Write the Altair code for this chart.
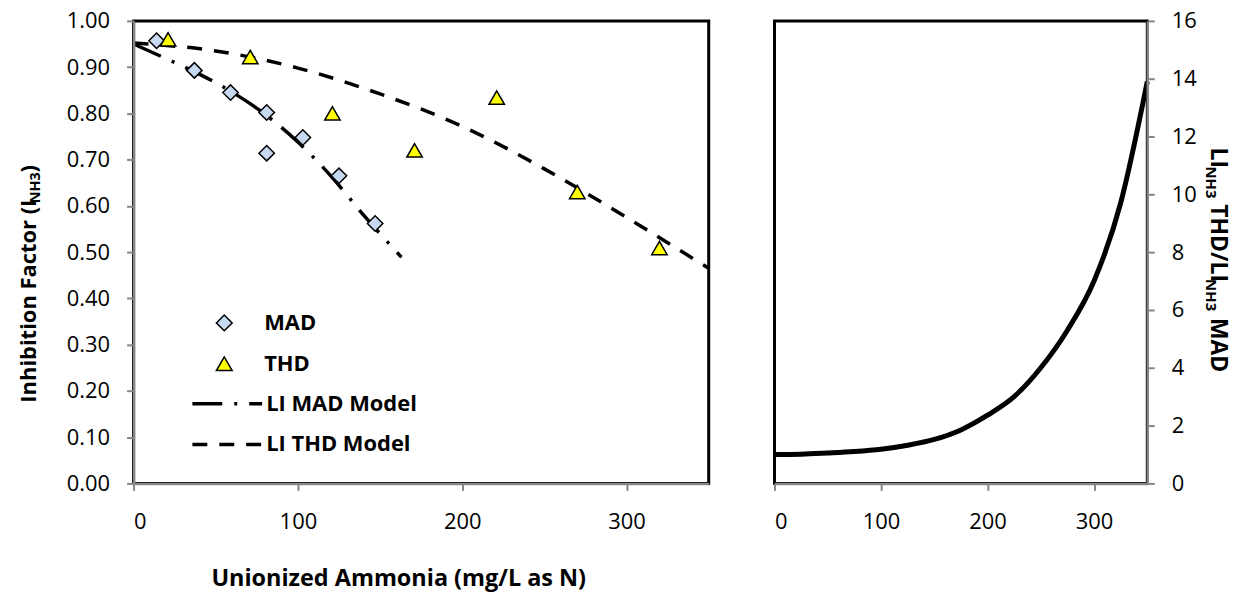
import altair as alt
import pandas as pd

# ---------------- data ----------------
mad_x = [14, 37, 59, 81, 81, 103, 125, 147]
mad_y = [0.957, 0.893, 0.845, 0.802, 0.714, 0.748, 0.665, 0.562]

thd_x = [21, 71, 121, 171, 221, 270, 320]
thd_y = [0.960, 0.922, 0.800, 0.720, 0.834, 0.630, 0.509]

mad_model_x = [0, 20, 40, 60, 80, 100, 120, 140, 163]
mad_model_y = [0.950, 0.918, 0.885, 0.846, 0.798, 0.738, 0.665, 0.580, 0.489]

thd_model_x = [0, 50, 100, 150, 200, 250, 300, 350]
thd_model_y = [0.952, 0.935, 0.898, 0.842, 0.772, 0.680, 0.575, 0.465]

ratio_x = [0, 25, 50, 75, 100, 125, 150, 175, 200, 225, 250, 275, 300, 325, 350]
ratio_y = [1.00, 1.01, 1.05, 1.10, 1.18, 1.32, 1.52, 1.85, 2.36, 3.00, 4.00, 5.30, 7.00, 9.70, 13.90]

series_names = ["MAD", "THD"]
model_names = ["LI MAD Model", "LI THD Model"]
left_ticks = [0.0, 0.1, 0.2, 0.3, 0.4, 0.5, 0.6, 0.7, 0.8, 0.9, 1.0]
right_ticks = [0, 2, 4, 6, 8, 10, 12, 14, 16]
x_ticks = [0, 100, 200, 300]

FONT = "Open Sans"
GRAY = "#868686"

pts = pd.DataFrame({
    "x": mad_x + thd_x,
    "y": mad_y + thd_y,
    "series": ["MAD"] * len(mad_x) + ["THD"] * len(thd_x),
})
models = pd.DataFrame({
    "x": mad_model_x + thd_model_x,
    "y": mad_model_y + thd_model_y,
    "model": [model_names[0]] * len(mad_model_x) + [model_names[1]] * len(thd_model_x),
})
ratio = pd.DataFrame({"x": ratio_x, "y": ratio_y})


def x_axis():
    return alt.Axis(values=x_ticks, title=None, grid=False, domainColor=GRAY,
                    domainWidth=2.5, tickColor=GRAY, tickWidth=2, tickSize=7,
                    labelFont=FONT, labelFontSize=22, labelColor="black",
                    labelPadding=21, zindex=1)


xscale = alt.Scale(domain=[0, 350], nice=False, zero=False)

# ---------------- left panel ----------------
line_legend = alt.Legend(title=None, orient="none", legendX=83, legendY=373,
                         symbolType="M-5,0H5", symbolSize=196,
                         symbolStrokeColor="black", symbolStrokeWidth=3.5,
                         labelFont=FONT, labelFontSize=22, labelFontWeight="bold",
                         labelColor="black", labelOffset=28, rowPadding=19,
                         padding=0, offset=0)

pt_legend = alt.Legend(title=None, orient="none", legendX=80, legendY=292,
                       symbolSize=250, symbolStrokeColor="black",
                       symbolStrokeWidth=1.5, symbolOpacity=1,
                       labelFont=FONT, labelFontSize=22, labelFontWeight="bold",
                       labelColor="black", labelOffset=29, rowPadding=19,
                       padding=0, offset=0)

lines = alt.Chart(models).mark_line(color="black", strokeWidth=3.5,
                                    interpolate="monotone").encode(
    x=alt.X("x:Q", scale=xscale, axis=x_axis()),
    y=alt.Y("y:Q", scale=alt.Scale(domain=[0, 1], nice=False),
            axis=alt.Axis(values=left_ticks, format=".2f", title=None, grid=False,
                          domainColor=GRAY, domainWidth=2.5, tickColor=GRAY,
                          tickWidth=2, tickSize=7, labelFont=FONT,
                          labelFontSize=22, labelColor="black", labelPadding=17,
                          zindex=1)),
    strokeDash=alt.StrokeDash("model:N",
                              scale=alt.Scale(domain=model_names,
                                              range=[[30, 12, 3, 12], [15, 12]]),
                              legend=line_legend),
)

points = alt.Chart(pts).mark_point(filled=True, strokeWidth=1.5,
                                   size=240, opacity=1).encode(
    x=alt.X("x:Q", scale=xscale),
    y=alt.Y("y:Q"),
    shape=alt.Shape("series:N",
                    scale=alt.Scale(domain=series_names,
                                    range=["diamond", "triangle-up"]),
                    legend=pt_legend),
    fill=alt.Fill("series:N",
                  scale=alt.Scale(domain=series_names,
                                  range=["#C6D9F1", "#FFFF00"]),
                  legend=pt_legend),
    stroke=alt.Stroke("series:N",
                      scale=alt.Scale(domain=series_names,
                                      range=["black", "black"]),
                      legend=pt_legend),
)


def txt(text, x, y, angle, size, align="left", baseline="alphabetic"):
    return alt.Chart(pd.DataFrame({"t": [text]})).mark_text(
        angle=angle, align=align, baseline=baseline, font=FONT,
        fontSize=size, fontWeight="bold", color="black").encode(
        x=alt.value(x), y=alt.value(y), text="t:N")


left_title = [
    txt("Inhibition Factor (I", -98, 383, 270, 22),
    txt("NH3", -94, 183, 270, 14.5),
    txt(")", -98, 152, 270, 22),
]
x_title = txt("Unionized Ammonia (mg/L as N)", 266, 560, 0, 23.5,
              align="center", baseline="middle")

left = alt.layer(lines, points, *left_title, x_title).properties(width=577, height=464)

# ---------------- right panel ----------------
ratio_line = alt.Chart(ratio).mark_line(color="black", strokeWidth=5,
                                        interpolate="monotone").encode(
    x=alt.X("x:Q", scale=xscale, axis=x_axis()),
    y=alt.Y("y:Q", scale=alt.Scale(domain=[0, 16], nice=False),
            axis=alt.Axis(orient="right", values=right_ticks, title=None,
                          grid=False, domainColor=GRAY, domainWidth=2.5,
                          tickColor=GRAY, tickWidth=2, tickSize=7,
                          labelFont=FONT, labelFontSize=22, labelColor="black",
                          labelPadding=17, zindex=1)),
)

right_title = [
    txt("LI", 438, 127, 90, 23),
    txt("NH3", 433, 146, 90, 15),
    txt("THD/LI", 438, 184, 90, 23),
    txt("NH3", 433, 259, 90, 15),
    txt("MAD", 438, 298, 90, 23),
]

right = alt.layer(ratio_line, *right_title).properties(width=374, height=464)

chart = alt.hconcat(left, right, spacing=45).resolve_legend(
    shape="independent", fill="independent", stroke="independent",
    strokeDash="independent"
).configure_view(stroke="black", strokeWidth=3).properties(
    padding={"left": 16, "top": 7, "right": 7, "bottom": 0}
)

chart.save("out.html", embed_options={"renderer": "svg", "actions": False})
